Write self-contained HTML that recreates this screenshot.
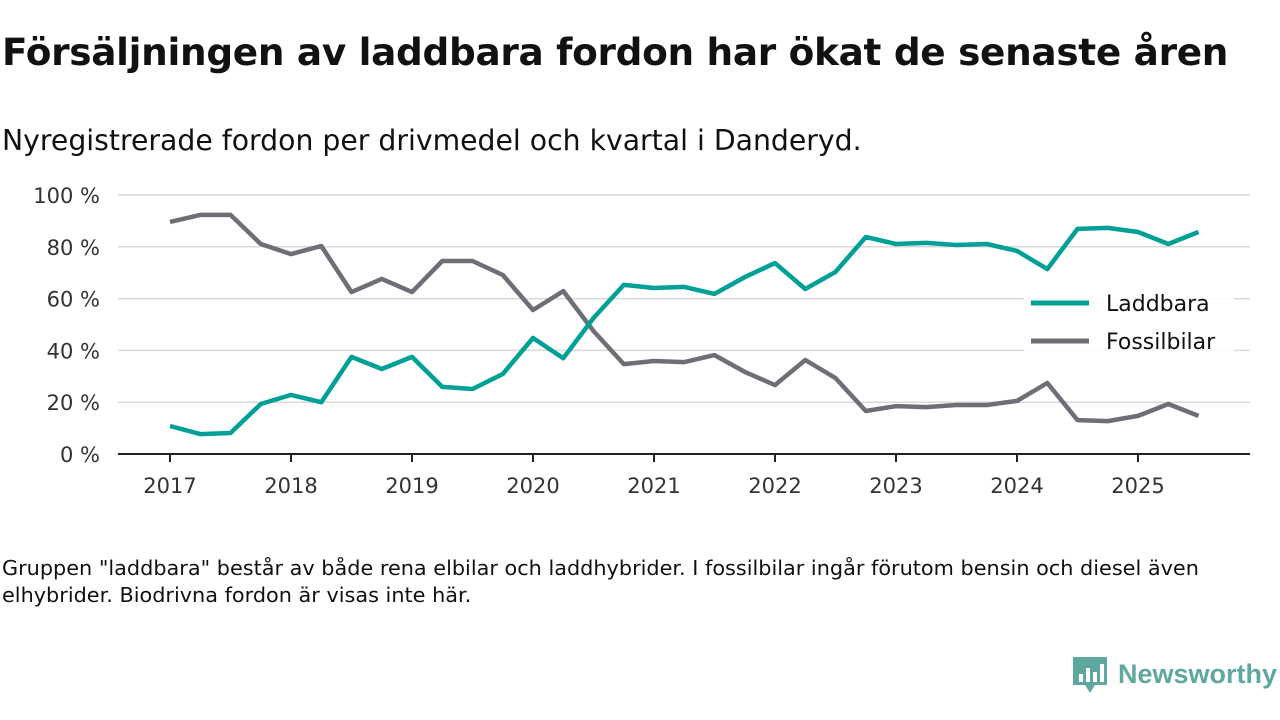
<!DOCTYPE html>
<html><head><meta charset="utf-8"><style>
body{margin:0;width:1280px;height:720px;background:#fff;font-family:"DejaVu Sans","Liberation Sans",sans-serif;color:#111;overflow:hidden;position:relative}
#title{position:absolute;left:2px;top:30px;font-size:37.4px;font-weight:bold;margin:0;letter-spacing:-0.3px}
#sub{position:absolute;left:2px;top:124px;font-size:28.3px}
#note{position:absolute;left:2px;top:555px;font-size:20.8px;line-height:27px;width:1215px}
svg{position:absolute;left:0;top:0}
</style></head><body>
<h1 id="title">Försäljningen av laddbara fordon har ökat de senaste åren</h1>
<div id="sub">Nyregistrerade fordon per drivmedel och kvartal i Danderyd.</div>
<div id="note">Gruppen "laddbara" består av både rena elbilar och laddhybrider. I fossilbilar ingår förutom bensin och diesel även elhybrider. Biodrivna fordon är visas inte här.</div>
<svg id="chart" width="1280" height="720"></svg>
<script>
const years=[2017,2018,2019,2020,2021,2022,2023,2024,2025];
const yTicks=[0,20,40,60,80,100];
const laddbara=[10.8,7.7,8.1,19.3,22.8,20,37.5,32.8,37.5,25.9,25.1,30.9,44.8,37,52.5,65.3,64.1,64.5,61.8,68.3,73.7,63.7,70.3,83.8,81.1,81.5,80.7,81.1,78.4,71.4,86.9,87.3,85.7,81.1,85.7];
const fossil=[89.6,92.3,92.3,81.1,77.2,80.3,62.5,67.6,62.5,74.5,74.5,69.1,55.6,62.9,47.5,34.7,35.9,35.5,38.2,31.7,26.6,36.3,29.3,16.6,18.5,18.1,18.9,18.9,20.5,27.4,13.1,12.7,14.7,19.3,14.7];
const NS="http://www.w3.org/2000/svg";
const svg=document.getElementById('chart');
const x=t=>170+(t-2017)*121;
const y=v=>454-v*2.59;
function el(tag,attrs,parent){const e=document.createElementNS(NS,tag);for(const k in attrs)e.setAttribute(k,attrs[k]);(parent||svg).appendChild(e);return e;}
yTicks.forEach(v=>{
  if(v>0){const g=el('line',{x1:118,x2:1250,y1:y(v),y2:y(v),stroke:'#d9d9d9','stroke-width':1.5});
  
  }
  const t=el('text',{x:100,y:y(v)+8,'text-anchor':'end','font-size':21,fill:'#333','font-family':'DejaVu Sans, sans-serif'});
  t.textContent=v+' %';
  
  
});
const ax=el('line',{x1:118,x2:1250,y1:454,y2:454,stroke:'#222','stroke-width':2});


years.forEach(yr=>{
  el('line',{x1:x(yr),x2:x(yr),y1:454,y2:462,stroke:'#222','stroke-width':2});
  const t=el('text',{x:x(yr),y:493,'text-anchor':'middle','font-size':21,fill:'#333','font-family':'DejaVu Sans, sans-serif'});
  t.textContent=yr;
  
  
});
function series(data,color,name){
  const d=data.map((v,i)=>(i?'L':'M')+x(2017+i/4).toFixed(1)+','+y(v).toFixed(1)).join('');
  const p=el('path',{d:d,fill:'none',stroke:color,'stroke-width':4.5,'stroke-linejoin':'round'});
  
  
}
series(fossil,'#6e6e76','fossilbilar-line');
series(laddbara,'#00a096','laddbara-line');
el('rect',{x:1024,y:285,width:210,height:72,fill:'#fff',opacity:0.85});
[['Laddbara','#00a096',303],['Fossilbilar','#6e6e76',341]].forEach(([n,c,yy])=>{
  const g=el('g',{});
  
  
  el('line',{x1:1031,x2:1089,y1:yy,y2:yy,stroke:c,'stroke-width':5},g);
  const t=el('text',{x:1106,y:yy+8,'font-size':22,fill:'#111','font-family':'DejaVu Sans, sans-serif'},g);
  t.textContent=n;
});
const logo=el('g',{});


el('path',{d:'M1073,657 h34 v28 h-12 l-5,8 l-5,-8 h-12 z',fill:'#5fa8a0'},logo);
[[1079,8],[1086,14],[1093,10],[1100,18]].forEach(([bx,h])=>el('rect',{x:bx,y:682-h,width:4,height:h,fill:'#fff'},logo));
const lt=el('text',{x:1118,y:683,'font-size':27,'font-weight':'bold',fill:'#5fa8a0','font-family':'Liberation Sans, sans-serif',textLength:159,lengthAdjust:'spacingAndGlyphs'},logo);
lt.textContent='Newsworthy';
</script>
</body></html>
